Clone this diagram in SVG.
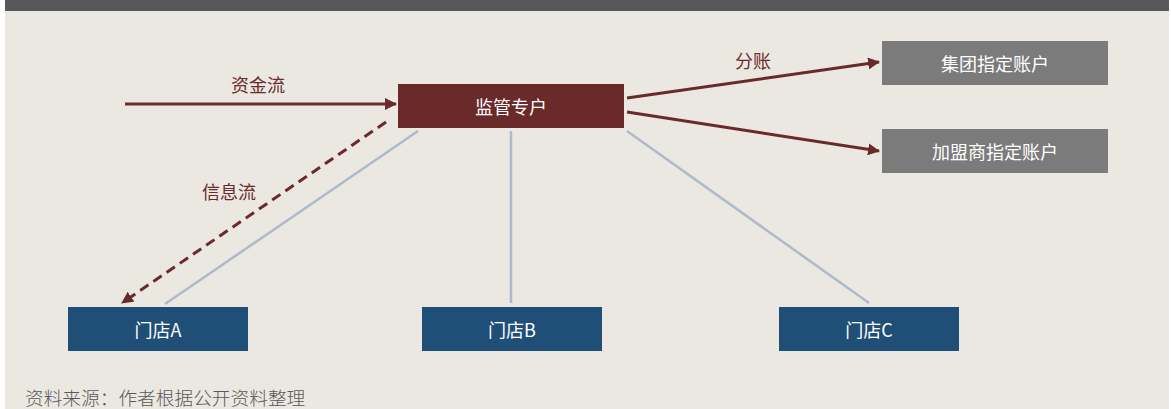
<svg xmlns="http://www.w3.org/2000/svg" width="1171" height="409" viewBox="0 0 1171 409">
<style>
.nt{font-family:"Noto Sans CJK SC","Liberation Sans",sans-serif;font-size:18px;fill:#ffffff;text-anchor:middle;dominant-baseline:central}
.lb{font-family:"Noto Sans CJK SC","Liberation Sans",sans-serif;font-size:18px;fill:#6b2a2a;text-anchor:middle}
.red{stroke:#6b2a2a;stroke-width:3;fill:none}
.blue{stroke:#aebacb;stroke-width:2.5;fill:none}
</style>
<defs>
<marker id="ah" viewBox="0 0 12 12" refX="11" refY="6" markerWidth="12" markerHeight="12" markerUnits="userSpaceOnUse" orient="auto">
<path d="M0,0 L12,6 L0,12 Z" fill="#6b2a2a"/>
</marker>
</defs>
<rect x="0" y="0" width="1171" height="409" fill="#ffffff"/>
<rect x="5" y="0" width="1164" height="409" fill="#ebe8e2"/>
<rect x="5" y="0" width="1164" height="11" fill="#58585a"/>
<g id="connectors">
<line class="blue" x1="418" y1="131" x2="165" y2="304"/>
<line class="blue" x1="511" y1="131" x2="511" y2="303"/>
<line class="blue" x1="627" y1="131" x2="869" y2="303"/>
<line class="red" x1="125" y1="104" x2="396" y2="104" marker-end="url(#ah)"/>
<line class="red" x1="627" y1="98" x2="879" y2="62" marker-end="url(#ah)"/>
<line class="red" x1="627" y1="112" x2="879" y2="151" marker-end="url(#ah)"/>
<line class="red" x1="386" y1="122" x2="122" y2="303" stroke-dasharray="10,6" marker-end="url(#ah)"/>
<text class="lb" x="258" y="92">资金流</text>
<text class="lb" x="753" y="68">分账</text>
<text class="lb" x="229" y="199">信息流</text>
</g>
<g id="n_jg"><rect x="398" y="84" width="226" height="44" fill="#6b2a2a"/><text class="nt" x="511" y="106">监管专户</text></g>
<g id="n_jt"><rect x="882" y="41" width="226" height="44" fill="#7b7b7b"/><text class="nt" x="995" y="63">集团指定账户</text></g>
<g id="n_jm"><rect x="882" y="129" width="226" height="44" fill="#7b7b7b"/><text class="nt" x="995" y="151">加盟商指定账户</text></g>
<g id="n_a"><rect x="68" y="307" width="180" height="44" fill="#1f4e77"/><text class="nt" x="158" y="329">门店A</text></g>
<g id="n_b"><rect x="422" y="307" width="180" height="44" fill="#1f4e77"/><text class="nt" x="512" y="329">门店B</text></g>
<g id="n_c"><rect x="779" y="307" width="180" height="44" fill="#1f4e77"/><text class="nt" x="869" y="329">门店C</text></g>
<text x="25" y="405" font-family="'Noto Sans CJK SC','Liberation Sans',sans-serif" font-size="18.7" font-weight="300" fill="#595959">资料来源：作者根据公开资料整理</text>
</svg>
